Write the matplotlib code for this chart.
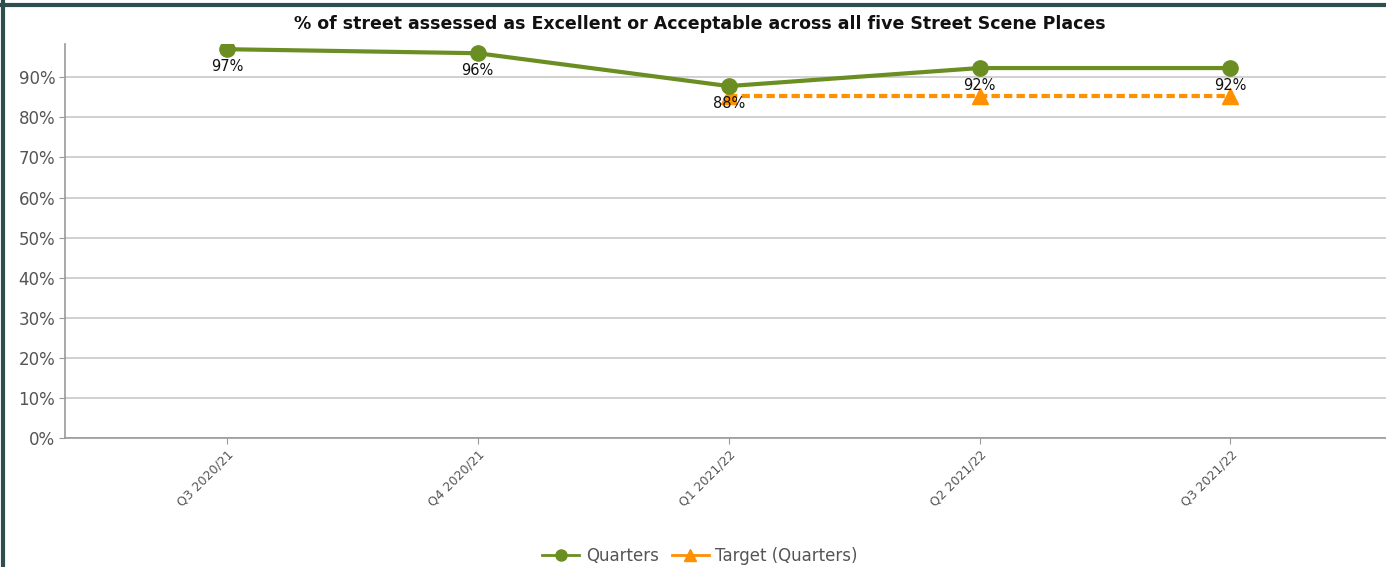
import matplotlib
matplotlib.use("Agg")
import matplotlib.pyplot as plt
from matplotlib.lines import Line2D

quarters = ["Q3 2020/21", "Q4 2020/21", "Q1 2021/22", "Q2 2021/22", "Q3 2021/22"]
actual = [97.0, 96.0, 87.8, 92.3, 92.3]
actual_labels = ["97%", "96%", "88%", "92%", "92%"]
target_idx = [2, 3, 4]
target = [85.3, 85.3, 85.3]
yticks = list(range(0, 100, 10))

green = "#6b8e23"
orange = "#ff9000"
grey_text = "#555555"


def main():
    fig = plt.figure(figsize=(13.86, 5.67), dpi=100)
    ax = fig.add_axes([65 / 1386, 1 - 438 / 567, (1386 - 65) / 1386, (438 - 44) / 567])

    x = list(range(len(quarters)))
    ax.plot(x, actual, color=green, lw=3, marker="o", ms=11, zorder=4, solid_capstyle="round")
    ax.plot(target_idx, target, color=orange, lw=3, ls=(0, (2, 1)), marker="^", ms=12, zorder=3)

    for xi, v, lab in zip(x, actual, actual_labels):
        ax.annotate(lab, (xi, v), xytext=(0, -7), textcoords="offset points",
                    ha="center", va="top", fontsize=10.5, color="#111111", zorder=5)

    ax.set_xlim(-0.645, 4.62)
    ax.set_ylim(0, 98.3)
    ax.set_yticks(yticks)
    ax.set_yticklabels([f"{t}%" for t in yticks], fontsize=12, color=grey_text)
    ax.set_xticks(x)
    ax.set_xticklabels(quarters, rotation=45, ha="right", rotation_mode="anchor",
                       fontsize=9, color=grey_text)
    ax.tick_params(axis="both", length=4, color="#999999", pad=3)
    ax.grid(axis="y", color="#c8c8c8", lw=1.2)
    ax.set_axisbelow(True)
    for s in ["top", "right"]:
        ax.spines[s].set_visible(False)
    for s in ["left", "bottom"]:
        ax.spines[s].set_color("#999999")
        ax.spines[s].set_linewidth(1.2)

    fig.text(700 / 1386, 1 - 24 / 567,
             "% of street assessed as Excellent or Acceptable across all five Street Scene Places",
             ha="center", va="center", fontsize=12.5, fontweight="bold", color="#111111")

    handles = [
        Line2D([], [], color=green, lw=2, marker="o", ms=8),
        Line2D([], [], color=orange, lw=2, marker="^", ms=9),
    ]
    fig.legend(handles, ["Quarters", "Target (Quarters)"], loc="center",
               bbox_to_anchor=(700 / 1386, 1 - 556 / 567), ncol=2, frameon=False,
               fontsize=12, labelcolor=grey_text, handlelength=2.2, columnspacing=0.8,
               handletextpad=0.4)

    # dark frame on top and left edge
    fig.add_artist(Line2D([0, 1], [1 - 5 / 567, 1 - 5 / 567], color="#2f4f4f", lw=3,
                          transform=fig.transFigure))
    fig.add_artist(Line2D([2.5 / 1386, 2.5 / 1386], [0, 1], color="#2f4f4f", lw=3,
                          transform=fig.transFigure))

    fig.savefig("out.png", dpi=100)


if __name__ == "__main__":
    main()
